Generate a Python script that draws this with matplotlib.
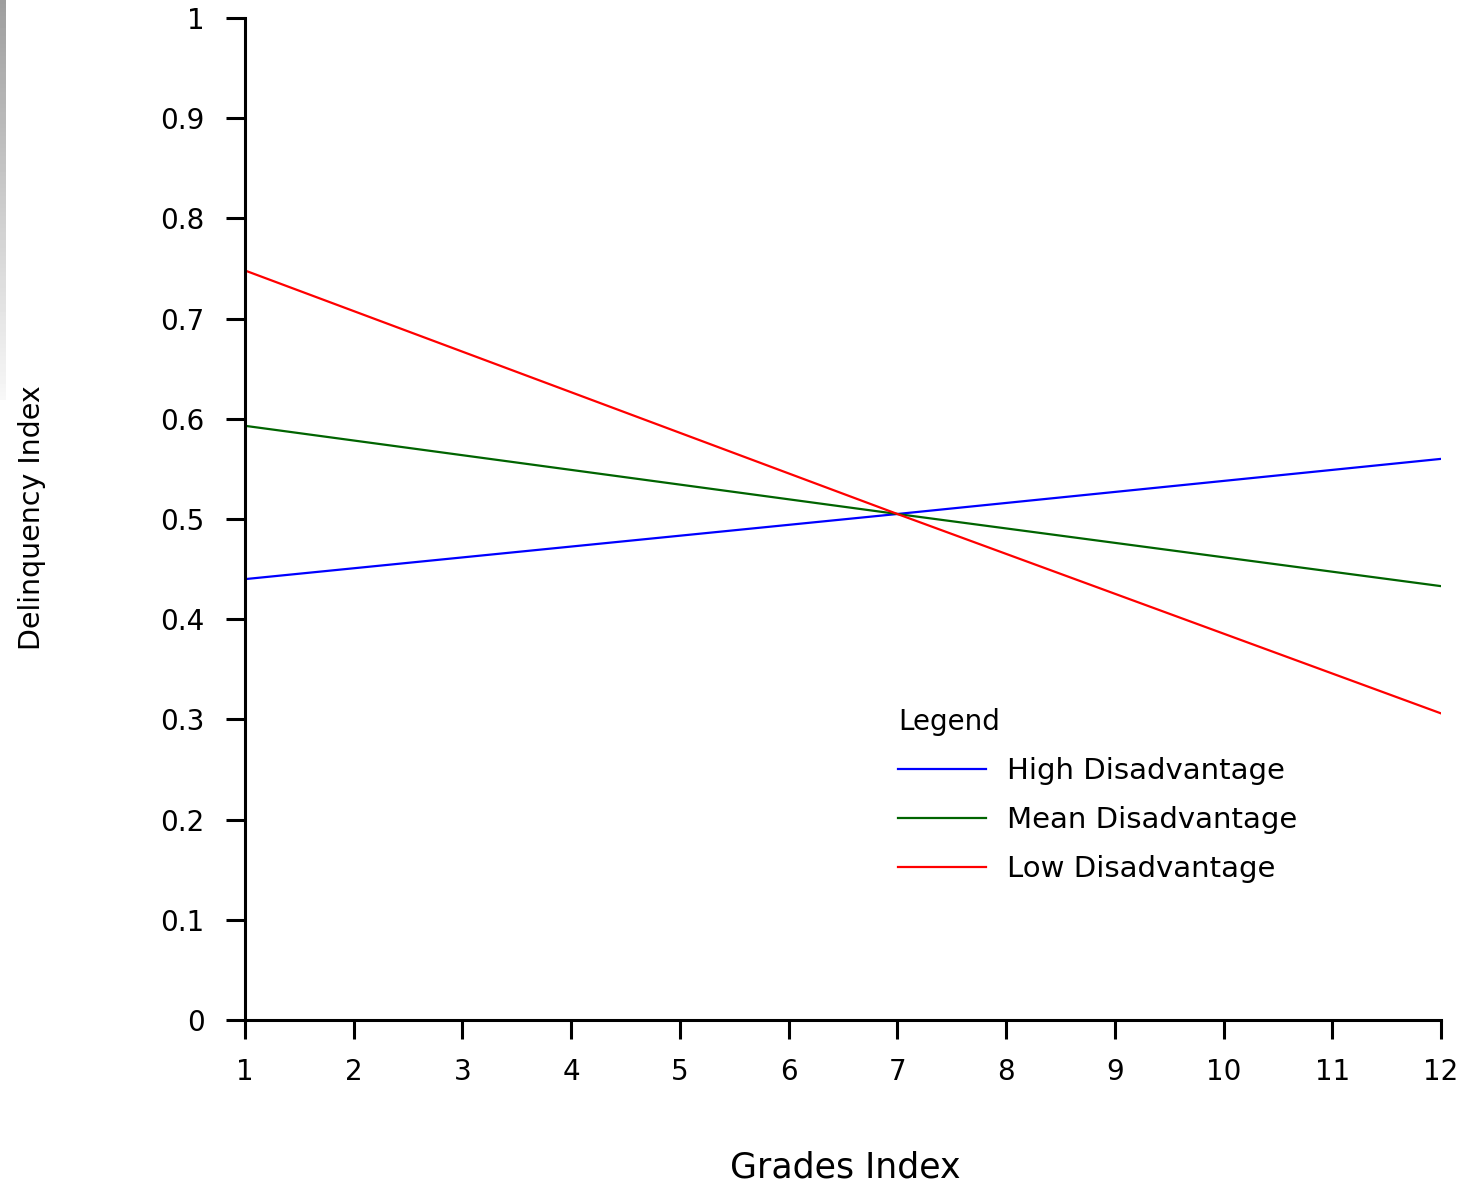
import numpy as np
import matplotlib
matplotlib.use("Agg")
import matplotlib.pyplot as plt

plt.rcParams['font.family'] = ['DejaVu Sans']

grades = [1, 7, 12]
high_dis = [0.440, 0.505, 0.560]
mean_dis = [0.593, 0.505, 0.433]
low_dis = [0.748, 0.505, 0.306]
series_labels = ["High Disadvantage", "Mean Disadvantage", "Low Disadvantage"]
series_colors = ["#0000ff", "#006400", "#ff0000"]
xticks = list(range(1, 13))
yticks = [0, 0.1, 0.2, 0.3, 0.4, 0.5, 0.6, 0.7, 0.8, 0.9, 1.0]
ytick_labels = ["0", "0.1", "0.2", "0.3", "0.4", "0.5", "0.6", "0.7", "0.8", "0.9", "1"]

fig = plt.figure(figsize=(14.66, 11.89), dpi=100)
ax = fig.add_axes([245/1466, 1-1020/1189, (1441-245)/1466, (1020-18)/1189])

for vals, lab, col in zip([high_dis, mean_dis, low_dis], series_labels, series_colors):
    ax.plot(grades, vals, color=col, lw=1.6, label=lab)

ax.set_xlim(1, 12)
ax.set_ylim(0, 1)
ax.set_xticks(xticks)
ax.set_xticklabels([str(t) for t in xticks])
ax.set_yticks(yticks)
ax.set_yticklabels(ytick_labels)
for s in ['top', 'right']:
    ax.spines[s].set_visible(False)
for s in ['left', 'bottom']:
    ax.spines[s].set_linewidth(2.2)
ax.tick_params(axis='both', direction='out', length=14, width=2.2, labelsize=20, pad=15)
ax.tick_params(axis='x', pad=13)

fig.text(845/1466, 1-1168/1189, "Grades Index", ha='center', va='center', fontsize=25)
fig.text(32/1466, 1-518/1189, "Delinquency Index", ha='center', va='center', rotation=90, fontsize=20.5)

leg = ax.legend(loc='upper left', bbox_to_anchor=((872-245)/(1441-245), (1020-682)/(1020-18)),
                frameon=False, title="Legend", fontsize=21, title_fontsize=20,
                handlelength=3.0, handletextpad=0.72, labelspacing=0.72, alignment='left')

# left gray gradient strip
gax = fig.add_axes([0, 1-400/1189, 6/1466, 400/1189])
grad = np.linspace(0.62, 0.97, 100).reshape(-1, 1)
gax.imshow(grad, cmap='gray', vmin=0, vmax=1, aspect='auto')
gax.axis('off')

fig.savefig("out.png", dpi=100)
